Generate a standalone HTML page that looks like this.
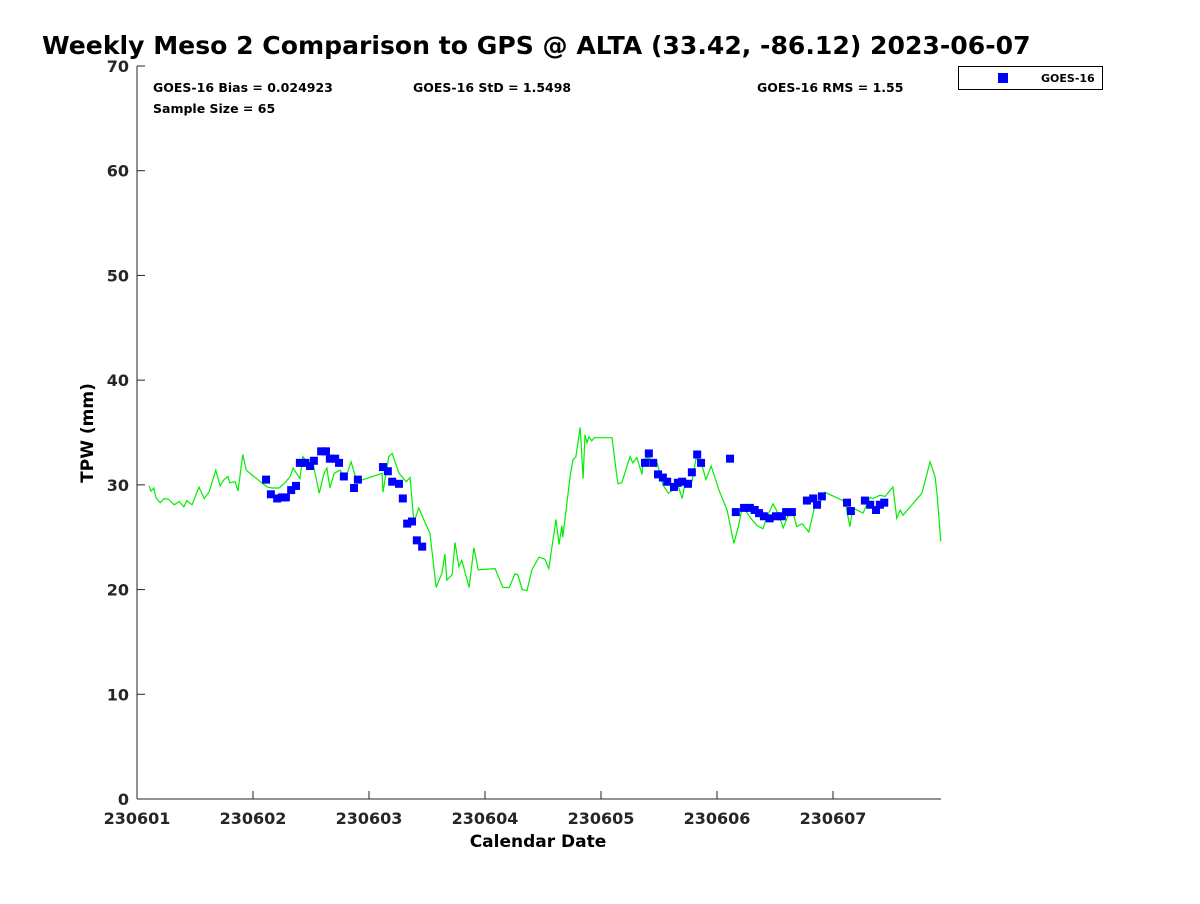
<!DOCTYPE html>
<html><head><meta charset="utf-8"><style>
body{margin:0;background:#fff;font-family:"DejaVu Sans","Liberation Sans",sans-serif}
svg text{font-family:"DejaVu Sans","Liberation Sans",sans-serif;font-weight:bold}
</style></head><body>
<svg id="chart" width="1200" height="900" viewBox="0 0 1200 900">
<rect width="1200" height="900" fill="#fff"/>
<text x="42" y="54" font-size="25.1">Weekly Meso 2 Comparison to GPS @ ALTA (33.42, -86.12) 2023-06-07</text>
<g id="axes"></g>
<g id="series"></g>
<text x="153" y="92" font-size="12.5">GOES-16 Bias = 0.024923</text>
<text x="413" y="92" font-size="12.5">GOES-16 StD = 1.5498</text>
<text x="757" y="92" font-size="12.5">GOES-16 RMS = 1.55</text>
<text x="153" y="113" font-size="12.5">Sample Size = 65</text>
<g>
<rect x="958.5" y="66.5" width="144" height="23" fill="#fff" stroke="#000" stroke-width="1"/>
<rect x="998" y="73" width="10" height="10" fill="#0000ff"/>
<text x="1041" y="82" font-size="11">GOES-16</text>
</g>
<text x="538" y="847" font-size="17" text-anchor="middle">Calendar Date</text>
<text transform="translate(93,433) rotate(-90)" font-size="17" text-anchor="middle">TPW (mm)</text>
</svg>
<script>
const xTickLabels=["230601","230602","230603","230604","230605","230606","230607"];
const yTicks=[0,10,20,30,40,50,60,70];
const gpsHours=[2.5,2.9,3.5,3.9,4.8,5.6,6.6,7.7,8.7,9.7,10.3,11.4,12.8,13.9,14.9,16.3,17.2,18.0,18.8,19.2,20.3,20.9,21.9,22.6,26.9,27.9,29.4,30.6,31.7,32.3,33.7,34.3,35.2,36.2,37.7,38.7,39.3,39.9,40.8,42.0,43.2,44.3,45.5,50.7,50.9,52.1,52.8,54.2,55.7,56.5,57.3,58.3,59.6,60.6,61.9,63.1,63.7,64.1,65.2,65.8,66.6,67.2,68.7,69.7,70.6,74.1,75.7,77.0,78.2,78.8,79.7,80.7,81.7,83.2,84.4,85.2,86.7,87.3,87.9,88.1,89.6,90.2,90.8,91.7,92.3,92.7,93.1,93.5,94.1,94.6,98.3,98.9,99.5,100.3,102.0,102.6,103.4,104.5,104.7,105.7,107.6,108.8,109.9,110.9,111.9,112.8,113.4,114.8,115.7,116.7,117.7,118.8,120.4,122.1,123.5,124.4,125.3,126.8,128.3,129.5,130.3,131.6,132.6,133.7,134.9,135.5,136.5,137.6,139.0,140.3,140.9,142.3,146.5,147.5,148.1,150.2,151.7,152.3,153.7,154.8,156.4,157.2,157.9,158.5,162.4,164.1,165.1,165.5,166.3];
const gpsTpw=[29.9,29.4,29.7,28.8,28.3,28.7,28.6,28.1,28.4,27.9,28.5,28.1,29.8,28.7,29.3,31.4,29.9,30.5,30.8,30.2,30.3,29.4,32.9,31.4,29.8,29.7,29.7,30.2,30.8,31.6,30.6,32.7,32.2,32.5,29.2,31.1,31.6,29.7,31.1,31.4,30.7,32.2,30.3,31.1,29.3,32.7,33.0,31.1,30.3,30.7,26.4,27.8,26.4,25.4,20.2,21.6,23.4,20.9,21.4,24.5,22.2,22.8,20.2,24.0,21.9,22.0,20.2,20.2,21.5,21.4,20.0,19.9,21.9,23.1,22.9,22.0,26.7,24.3,26.1,25.0,30.8,32.4,32.7,35.5,30.6,34.8,34.0,34.6,34.2,34.5,34.5,32.2,30.1,30.2,32.7,32.1,32.6,31.0,32.4,32.6,32.1,30.0,29.2,29.5,30.0,28.7,30.2,30.3,32.6,32.2,30.5,31.8,29.5,27.6,24.4,26.0,28.0,26.9,26.1,25.8,26.9,28.2,27.3,25.9,27.3,27.7,26.0,26.3,25.5,28.1,27.9,29.3,28.4,26.0,27.8,27.3,28.8,28.7,29.0,28.9,29.8,26.8,27.6,27.1,29.2,32.2,30.8,29.3,24.6];
const goesHours=[26.7,27.7,29.0,30.0,30.8,31.9,32.9,33.7,34.8,35.8,36.6,38.1,39.1,39.9,41.0,41.8,42.8,44.9,45.7,50.9,51.9,52.8,54.2,55.0,55.9,56.9,57.9,59.0,105.1,105.9,106.8,107.8,108.8,109.7,111.1,111.9,112.8,114.0,114.8,115.9,116.7,122.7,123.9,125.6,126.8,127.8,128.7,129.7,130.9,132.2,133.4,134.3,135.5,138.6,139.9,140.7,141.7,146.9,147.7,150.6,151.7,152.9,153.7,154.6];
const goesTpw=[30.5,29.1,28.7,28.8,28.8,29.5,29.9,32.1,32.1,31.8,32.3,33.2,33.2,32.5,32.5,32.1,30.8,29.7,30.5,31.7,31.3,30.3,30.1,28.7,26.3,26.5,24.7,24.1,32.1,33.0,32.1,31.0,30.7,30.3,29.8,30.2,30.3,30.1,31.2,32.9,32.1,32.5,27.4,27.8,27.8,27.6,27.3,27.0,26.8,27.0,27.0,27.4,27.4,28.5,28.7,28.1,28.9,28.3,27.5,28.5,28.1,27.6,28.1,28.3];

const NS="http://www.w3.org/2000/svg";
const L=137,R=941,T=66,B=799;
const xs=h=>L+h*(116/24);
const ys=v=>B-(v/70)*(B-T);
function mk(tag,attrs,parent){const e=document.createElementNS(NS,tag);for(const k in attrs)e.setAttribute(k,attrs[k]);parent.appendChild(e);return e;}
const axes=document.getElementById('axes'),series=document.getElementById('series');
const yAxis=mk('line',{x1:L,y1:T,x2:L,y2:B,stroke:'#262626','stroke-width':1},axes);


const xAxis=mk('line',{x1:L,y1:B,x2:R,y2:B,stroke:'#262626','stroke-width':1},axes);


yTicks.forEach(v=>{const y=ys(v);
mk('line',{x1:L,y1:y,x2:L+8,y2:y,stroke:'#262626'},axes);
const t=mk('text',{x:L-8,y:y+6,'font-size':16,'text-anchor':'end',fill:'#262626'},axes);t.textContent=v;

});
xTickLabels.forEach((lab,i)=>{const x=xs(i*24);
mk('line',{x1:x,y1:B,x2:x,y2:B-8,stroke:'#262626'},axes);
const t=mk('text',{x:x,y:B+25,'font-size':16,'text-anchor':'middle',fill:'#262626'},axes);t.textContent=lab;

});
const pts=gpsHours.map((h,i)=>xs(h).toFixed(1)+','+ys(gpsTpw[i]).toFixed(1)).join(' ');
const line=mk('polyline',{points:pts,fill:'none',stroke:'#00ee00','stroke-width':1.2},series);


goesHours.forEach((h,i)=>{const r=mk('rect',{x:xs(h)-4,y:ys(goesTpw[i])-4,width:8,height:8,fill:'#0000ff'},series);

});
</script>
</body></html>
